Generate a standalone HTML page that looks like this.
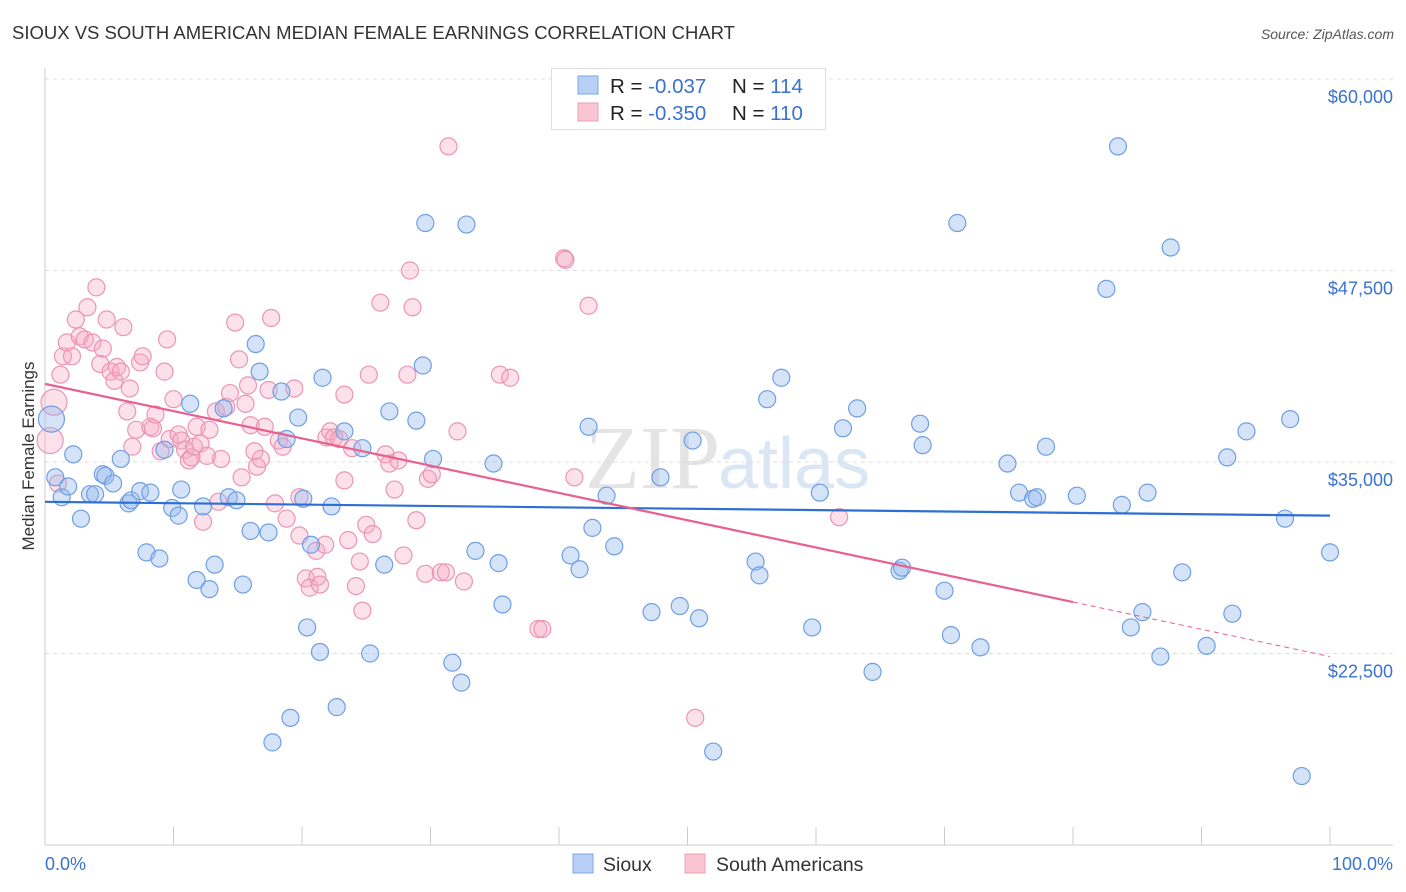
<!DOCTYPE html>
<html><head><meta charset="utf-8"><style>
body{margin:0;background:#fff;font-family:"Liberation Sans",sans-serif;}
#c{position:absolute;left:0;top:0;}
</style></head><body>
<svg id="c" width="1406" height="892" xmlns="http://www.w3.org/2000/svg">
<text x="12" y="39" font-size="18.5" fill="#333">SIOUX VS SOUTH AMERICAN MEDIAN FEMALE EARNINGS CORRELATION CHART</text>
<text x="1394" y="39" font-size="14" font-style="italic" fill="#555" text-anchor="end">Source: ZipAtlas.com</text>
<text x="720" y="488" font-size="90" font-family="Liberation Serif,serif" fill="#e4e4e4" text-anchor="end">ZIP</text>
<text x="718" y="488" font-size="72" fill="#dbe6f5">atlas</text>
<g id="grid"></g><g id="pts"></g><g id="trend"></g>
<text transform="translate(34,456) rotate(-90)" font-size="17" fill="#333" text-anchor="middle">Median Female Earnings</text>
<g>
<rect x="551.5" y="68.5" width="274" height="61" fill="#fff" stroke="#ddd"/>
<rect x="578" y="76" width="20" height="18" fill="#b8d0f5" stroke="#7ea6e6"/>
<rect x="578" y="103" width="20" height="18" fill="#f9c5d5" stroke="#ec9fb8"/>
<text x="610" y="93" font-size="20.5" fill="#222">R = <tspan fill="#3a72d0">-0.037</tspan></text>
<text x="732" y="93" font-size="20.5" fill="#222">N = <tspan fill="#3a72d0">114</tspan></text>
<text x="610" y="120" font-size="20.5" fill="#222">R = <tspan fill="#3a72d0">-0.350</tspan></text>
<text x="732" y="120" font-size="20.5" fill="#222">N = <tspan fill="#3a72d0">110</tspan></text>
</g>
<g>
<rect x="573" y="854" width="20" height="19" fill="#b8d0f5" stroke="#7ea6e6"/>
<text x="603" y="871" font-size="19.5" fill="#333">Sioux</text>
<rect x="685" y="854" width="20" height="19" fill="#f9c5d5" stroke="#ec9fb8"/>
<text x="716" y="871" font-size="19.5" fill="#333">South Americans</text>
</g>
<text x="45" y="870" font-size="18" fill="#3a72d0">0.0%</text>
<text x="1393" y="870" font-size="18" fill="#3a72d0" text-anchor="end">100.0%</text>
</svg>
<script>
const yTicks=[22500,35000,47500,60000];
const yTickLabels=["$22,500","$35,000","$47,500","$60,000"];
const xTicks=[0,10,20,30,40,50,60,70,80,90,100];
const siouxX=[0.5,0.8,1.3,1.8,2.2,2.8,3.5,3.9,4.5,4.7,5.3,5.9,6.5,6.7,7.4,7.9,8.2,8.9,9.3,9.9,10.4,10.6,11.3,11.8,12.3,12.8,13.2,13.9,14.3,14.9,15.4,16.0,16.4,16.7,17.4,17.7,18.4,18.8,19.1,19.7,20.1,20.4,20.7,21.4,21.6,22.3,22.7,23.3,24.7,25.3,26.4,26.8,28.9,29.4,29.6,30.2,31.7,32.4,32.8,33.5,34.9,35.3,35.6,40.9,41.6,42.3,42.6,43.7,44.3,47.2,47.9,49.4,50.4,50.9,52.0,55.3,55.6,56.2,57.3,59.7,60.3,62.1,63.2,64.4,66.5,66.7,68.1,68.3,70.0,70.5,71.0,72.8,74.9,75.8,76.9,77.2,77.9,80.3,82.6,83.5,83.8,84.5,85.4,85.8,86.8,87.6,88.5,90.4,92.0,92.4,93.5,96.5,96.9,97.8,100.0];
const siouxY=[37.8,34.0,32.7,33.4,35.5,31.3,32.9,32.9,34.2,34.1,33.6,35.2,32.3,32.5,33.1,29.1,33.0,28.7,35.8,32.0,31.5,33.2,38.8,27.3,32.1,26.7,28.3,38.5,32.7,32.5,27.0,30.5,42.7,40.9,30.4,16.7,39.6,36.5,18.3,37.9,32.6,24.2,29.6,22.6,40.5,32.1,19.0,37.0,35.9,22.5,28.3,38.3,37.7,41.3,50.6,35.2,21.9,20.6,50.5,29.2,34.9,28.4,25.7,28.9,28.0,37.3,30.7,32.8,29.5,25.2,34.0,25.6,36.4,24.8,16.1,28.5,27.6,39.1,40.5,24.2,33.0,37.2,38.5,21.3,27.9,28.1,37.5,36.1,26.6,23.7,50.6,22.9,34.9,33.0,32.6,32.7,36.0,32.8,46.3,55.6,32.2,24.2,25.2,33.0,22.3,49.0,27.8,23.0,35.3,25.1,37.0,31.3,37.8,14.5,29.1];
const saX=[0.4,0.7,1.0,1.2,1.4,1.7,2.1,2.4,2.7,3.1,3.3,3.7,4.0,4.3,4.5,4.8,5.1,5.4,5.6,5.9,6.1,6.4,6.6,6.8,7.1,7.4,7.6,8.2,8.4,8.6,9.0,9.3,9.5,9.7,10.0,10.4,10.6,10.9,11.2,11.4,11.6,11.8,12.1,12.3,12.6,12.8,13.3,13.5,13.7,14.1,14.4,14.8,15.1,15.3,15.6,15.8,16.0,16.3,16.5,16.8,17.1,17.4,17.6,17.9,18.2,18.5,18.8,19.4,19.8,19.8,20.3,20.6,21.1,21.2,21.4,21.8,21.9,22.2,22.5,22.9,23.3,23.3,23.6,23.9,24.2,24.5,24.7,25.0,25.2,25.5,26.1,26.5,26.8,27.2,27.5,27.9,28.2,28.4,28.6,28.9,29.6,29.8,30.1,30.8,31.2,31.4,32.1,32.6,35.4,36.2,38.4,38.7,40.4,40.5,41.2,42.3,50.6,61.8];
const saY=[36.4,38.9,33.6,40.7,41.9,42.8,41.9,44.3,43.2,43.0,45.1,42.8,46.4,41.4,42.4,44.3,40.9,40.3,41.2,40.9,43.8,38.3,39.8,36.0,37.1,41.5,41.9,37.3,37.2,38.1,35.7,40.9,43.0,36.5,39.1,36.8,36.4,35.8,35.1,35.3,36.0,37.3,36.2,31.1,35.4,37.1,38.3,32.4,35.2,38.6,39.5,44.1,41.7,34.0,38.8,40.0,37.4,35.7,34.7,35.2,37.3,39.7,44.4,32.3,36.4,36.0,31.3,39.8,30.2,32.7,27.4,26.8,29.2,27.5,27.0,29.6,36.6,37.0,36.6,36.5,39.4,33.8,29.9,35.9,26.9,28.5,25.3,30.9,40.7,30.3,45.4,35.5,34.9,33.2,35.1,28.9,40.7,47.5,45.1,31.2,27.7,33.9,34.2,27.8,27.8,55.6,37.0,27.2,40.7,40.5,24.1,24.1,48.3,48.2,34.0,45.2,18.3,31.4];
const siouxTrend=[32.4,31.5];
const saTrend=[40.1,22.3];
const saSolidEnd=80;
const NS="http://www.w3.org/2000/svg";
function X(v){return 45+v*12.85;}
function Y(k){return 79+(60-k)*15.32;}
function mk(t,a,p){const e=document.createElementNS(NS,t);for(const k in a)e.setAttribute(k,a[k]);p.appendChild(e);return e;}
const grid=document.getElementById('grid');
yTicks.forEach((t,i)=>{const y=Y(t/1000);
const l=mk('line',{x1:45,x2:1393,y1:y,y2:y,stroke:'#ddd','stroke-dasharray':'4,4'},grid);


const tx=mk('text',{x:1393,y:y+24,'font-size':18,fill:'#3a72d0','text-anchor':'end'},grid);tx.textContent=yTickLabels[i];

});
const ax=mk('line',{x1:45,x2:1393,y1:845,y2:845,stroke:'#ccc'},grid);


const ay=mk('line',{x1:45,x2:45,y1:68,y2:845,stroke:'#ccc'},grid);


xTicks.forEach(t=>{const tk=mk('line',{x1:X(t),x2:X(t),y1:827,y2:845,stroke:'#ccc'},grid);

});
const pts=document.getElementById('pts');
saX.forEach((x,i)=>{const c=mk('circle',{cx:X(x),cy:Y(saY[i]),r:i<2?13:8.5,fill:'rgba(246,170,196,0.35)',stroke:'#eb95b2','stroke-width':1.2},pts);

});
siouxX.forEach((x,i)=>{const c=mk('circle',{cx:X(x),cy:Y(siouxY[i]),r:i<1?13:8.5,fill:'rgba(150,185,240,0.4)',stroke:'#6f9fe2','stroke-width':1.2},pts);

});
const tr=document.getElementById('trend');
const b=mk('line',{x1:X(0),y1:Y(siouxTrend[0]),x2:X(100),y2:Y(siouxTrend[1]),stroke:'#2f6fd3','stroke-width':2.2},tr);


const midY=saTrend[0]+(saTrend[1]-saTrend[0])*saSolidEnd/100;
const p1=mk('line',{x1:X(0),y1:Y(saTrend[0]),x2:X(saSolidEnd),y2:Y(midY),stroke:'#e8608f','stroke-width':2.2},tr);


const p2=mk('line',{x1:X(saSolidEnd),y1:Y(midY),x2:X(100),y2:Y(saTrend[1]),stroke:'#e8608f','stroke-width':1,'stroke-dasharray':'5,4'},tr);


</script>
</body></html>
